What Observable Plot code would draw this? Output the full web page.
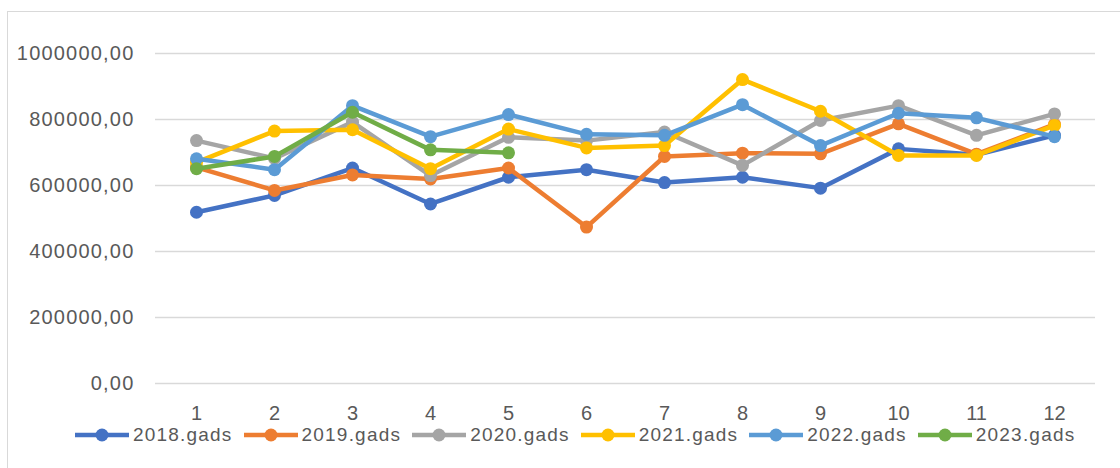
<!DOCTYPE html>
<html>
<head>
<meta charset="utf-8">
<script src="https://cdn.jsdelivr.net/npm/d3@7"></script>
<script src="https://cdn.jsdelivr.net/npm/@observablehq/plot@0.6"></script>
<style>
  html, body { margin: 0; padding: 0; background: #fff; }
  #wrap { position: relative; width: 1120px; height: 468px; overflow: hidden; font-family: "Liberation Sans", Arial, sans-serif; }
  #border { position: absolute; left: 7px; top: 11px; width: 1300px; height: 700px; border: 1px solid #d9d9d9; box-sizing: border-box; }
  #chart { position: absolute; left: 0; top: 0; }
  #chart g[aria-label="y-axis tick label"] { letter-spacing: 1.2px; }
  #legend { position: absolute; left: 75px; top: 425px; display: flex; align-items: center; height: 20px; }
  .item { display: flex; align-items: center; margin-right: 11px; }
  .item span { font-size: 19px; line-height: 20px; letter-spacing: 1.2px; color: #595959; margin-left: 4px; white-space: nowrap; }
</style>
</head>
<body>
<div id="wrap">
  <div id="border"></div>
  <div id="chart"></div>
  <div id="legend"></div>
</div>
<script>
const months = [1, 2, 3, 4, 5, 6, 7, 8, 9, 10, 11, 12];
const seriesNames = ["2018.gads", "2019.gads", "2020.gads", "2021.gads", "2022.gads", "2023.gads"];
const seriesColors = ["#4472C4", "#ED7D31", "#A5A5A5", "#FFC000", "#5B9BD5", "#70AD47"];
const s2018 = [519000, 570000, 653000, 544000, 625000, 648000, 609000, 625000, 592000, 711000, 693000, 752000];
const s2019 = [655000, 585000, 632000, 620000, 653000, 474000, 688000, 698000, 696000, 787000, 695000, 785000];
const s2020 = [736000, 682000, 792000, 630000, 746000, 736000, 762000, 661000, 797000, 842000, 752000, 817000];
const s2021 = [670000, 765000, 769000, 651000, 771000, 714000, 721000, 921000, 825000, 691000, 691000, 782000];
const s2022 = [681000, 648000, 842000, 748000, 815000, 755000, 752000, 845000, 721000, 819000, 805000, 748000];
const s2023 = [651000, 688000, 822000, 708000, 699000];
const yTicks = [0, 200000, 400000, 600000, 800000, 1000000];

const seriesValues = [s2018, s2019, s2020, s2021, s2022, s2023];
const rows = seriesNames.map((name, i) =>
  seriesValues[i].map((v, j) => ({series: name, month: months[j], value: v}))
);

const fmt = d => d.toFixed(2).replace(".", ",");

const marks = [
  Plot.gridY(yTicks, {stroke: "#d9d9d9", strokeOpacity: 1, strokeWidth: 1.5}),
  Plot.axisY(yTicks, {tickSize: 0, tickPadding: 21, tickFormat: fmt, fontSize: 20, fill: "#595959"}),
  Plot.axisX(months, {tickSize: 0, tickPadding: 22, fontSize: 20, fill: "#595959"})
];
rows.forEach((data, i) => {
  marks.push(Plot.line(data, {x: "month", y: "value", stroke: seriesColors[i], strokeWidth: 4.5, strokeLinejoin: "round"}));
  marks.push(Plot.dot(data, {x: "month", y: "value", fill: seriesColors[i], r: 6.5}));
});

const chart = Plot.plot({
  width: 1120,
  height: 425,
  marginLeft: 155,
  marginRight: 25,
  marginTop: 53,
  marginBottom: 42,
  style: {fontFamily: "'Liberation Sans', Arial, sans-serif", background: "transparent", overflow: "visible"},
  x: {type: "point", domain: months, padding: 0.5, label: null},
  y: {domain: [0, 1000000], label: null},
  marks
});
document.getElementById("chart").appendChild(chart);

const legend = document.getElementById("legend");
seriesNames.forEach((name, i) => {
  const item = document.createElement("div");
  item.className = "item";
  item.innerHTML = `<svg width="54" height="16"><line x1="0" x2="54" y1="8" y2="8" stroke="${seriesColors[i]}" stroke-width="4.5"/><circle cx="27" cy="8" r="6.5" fill="${seriesColors[i]}"/></svg><span>${name}</span>`;
  legend.appendChild(item);
});
</script>
</body>
</html>
